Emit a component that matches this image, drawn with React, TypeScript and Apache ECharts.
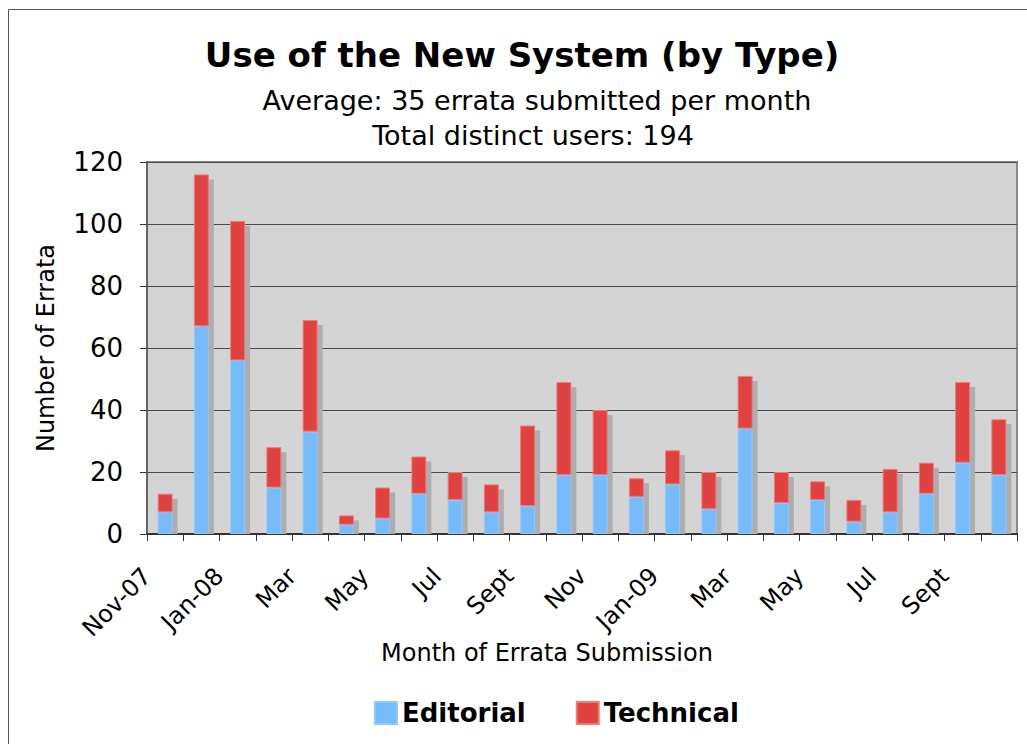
import React, { useEffect, useRef } from "react";
import * as echarts from "echarts";

const months = [
  "Nov-07", "Dec-07", "Jan-08", "Feb-08", "Mar-08", "Apr-08", "May-08", "Jun-08",
  "Jul-08", "Aug-08", "Sep-08", "Oct-08", "Nov-08", "Dec-08", "Jan-09", "Feb-09",
  "Mar-09", "Apr-09", "May-09", "Jun-09", "Jul-09", "Aug-09", "Sep-09", "Oct-09",
];
const editorial = [7, 67, 56, 15, 33, 3, 5, 13, 11, 7, 9, 19, 19, 12, 16, 8, 34, 10, 11, 4, 7, 13, 23, 19];
const technical = [6, 49, 45, 13, 36, 3, 10, 12, 9, 9, 26, 30, 21, 6, 11, 12, 17, 10, 6, 7, 14, 10, 26, 18];
const tickLabels = ["Nov-07", "Jan-08", "Mar", "May", "Jul", "Sept", "Nov", "Jan-09", "Mar", "May", "Jul", "Sept"];
const yTicks = [0, 20, 40, 60, 80, 100, 120];

const FONT = '"DejaVu Sans", Verdana, sans-serif';
const BAR_W = 15;

export default function App() {
  const ref = useRef<HTMLDivElement>(null);
  useEffect(() => {
    if (!ref.current) return;
    const chart = echarts.init(ref.current, undefined, { renderer: "svg" });
    const totals = editorial.map((e, i) => e + technical[i]);
    const txt = (text: string, x: number, y: number, size: number, bold = false) => ({
      type: "text",
      x,
      y,
      style: {
        text,
        fill: "#000",
        font: `${bold ? "bold " : ""}${size}px ${FONT}`,
        textAlign: "center",
        textVerticalAlign: "middle",
        align: "center",
        verticalAlign: "middle",
      },
    });
    chart.setOption({
      animation: false,
      backgroundColor: "#fff",
      graphic: [
        {
          type: "rect",
          shape: { x: 8.5, y: 9.5, width: 1040, height: 760 },
          style: { fill: "none", stroke: "#555", lineWidth: 1 },
          silent: true,
        },
        txt("Use of the New System (by Type)", 522, 55, 34, true),
        txt("Average: 35 errata submitted per month", 537, 100, 27),
        txt("Total distinct users: 194", 533, 135, 27),
        txt("Month of Errata Submission", 547, 653, 24),
      ],
      legend: {
        left: 369,
        top: 695,
        itemWidth: 22,
        itemHeight: 22,
        itemGap: 50,
        icon: "rect",
        textStyle: { fontFamily: FONT, fontSize: 26, fontWeight: "bold", color: "#000" },
        data: ["Editorial", "Technical"],
      },
      grid: {
        left: 147,
        right: 10,
        top: 162,
        bottom: 210,
        show: true,
        backgroundColor: "#d4d4d4",
        borderColor: "#8a8a8a",
        borderWidth: 2,
        containLabel: false,
        outerBoundsMode: "none",
      },
      xAxis: [
        {
          type: "category",
          data: months,
          position: "bottom",
          boundaryGap: true,
          axisLine: { show: true, lineStyle: { color: "#333", width: 2 } },
          axisTick: { show: true, interval: 0, length: 7, lineStyle: { color: "#333" } },
          axisLabel: { show: false },
          splitLine: { show: false },
        },
        {
          type: "value",
          position: "bottom",
          min: 0,
          max: 24,
          interval: 2,
          axisLine: { show: false },
          axisTick: { show: false },
          splitLine: { show: false },
          axisLabel: {
            show: true,
            rotate: 45,
            margin: 38,
            fontFamily: FONT,
            fontSize: 24,
            color: "#000",
            formatter: (v: number) => tickLabels[Math.round(v / 2)] ?? "",
          },
        },
      ],
      yAxis: {
        type: "value",
        min: yTicks[0],
        max: yTicks[yTicks.length - 1],
        interval: 20,
        name: "Number of Errata",
        nameLocation: "middle",
        nameGap: 89,
        nameTextStyle: { fontFamily: FONT, fontSize: 24, color: "#000" },
        axisLine: { show: true, onZero: false, lineStyle: { color: "#666", width: 2 } },
        axisTick: { show: true, inside: false, length: 7, lineStyle: { color: "#333" } },
        axisLabel: { fontFamily: FONT, fontSize: 26, color: "#000", margin: 24 },
        splitLine: { show: true, lineStyle: { color: "#4a4a4a", width: 1 } },
      },
      series: [
        {
          type: "custom",
          name: "shadow",
          xAxisIndex: 0,
          z: 1,
          silent: true,
          data: totals.map((t, i) => [i, t]),
          encode: { x: 0, y: 1 },
          renderItem: (params: any, api: any) => {
            const top = api.coord([api.value(0), api.value(1)]);
            const base = api.coord([api.value(0), 0]);
            const x = top[0] - BAR_W / 2 + 5;
            const y = top[1] + 5;
            return {
              type: "rect",
              shape: { x, y, width: BAR_W, height: Math.max(0, base[1] - y) },
              style: { fill: "#aeaeae" },
            };
          },
        },
        {
          type: "bar",
          name: "Editorial",
          stack: "total",
          xAxisIndex: 0,
          barWidth: BAR_W,
          z: 3,
          data: editorial,
          itemStyle: { color: "#78bbfa", borderColor: "#8fc8ff", borderWidth: 1 },
        },
        {
          type: "bar",
          name: "Technical",
          stack: "total",
          xAxisIndex: 0,
          barWidth: BAR_W,
          z: 3,
          data: technical,
          itemStyle: { color: "#e04242", borderColor: "#f07a7a", borderWidth: 1 },
        },
      ],
    });
    return () => chart.dispose();
  }, []);
  return <div ref={ref} style={{ position: "absolute", left: 0, top: 0, width: 1027, height: 744 }} />;
}
